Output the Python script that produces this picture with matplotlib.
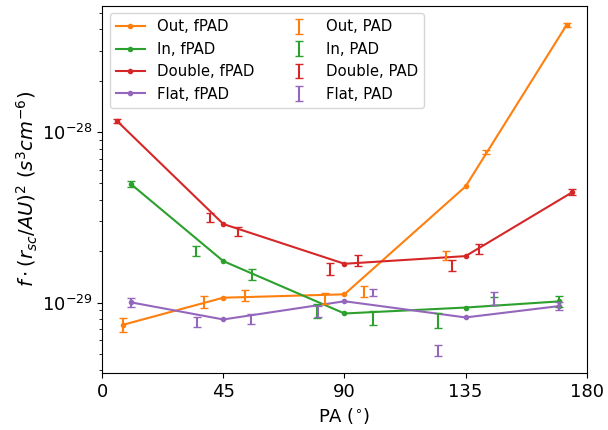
import matplotlib
matplotlib.use('Agg')
import matplotlib.pyplot as plt

# PAD measurements (with error bars)
pa_out = [7.8, 37.8, 53.0, 82.8, 97.4, 127.7, 142.6, 172.6]
pad_out = [7.41e-30, 1.007e-29, 1.103e-29, 1.059e-29, 1.167e-29, 1.901e-29, 7.63e-29, 4.27e-28]
err_out = [6.97e-31, 7.85e-31, 8.45e-31, 7.54e-31, 9.1e-31, 1.15e-30, 2.26e-30, 1.15e-29]

pa_in = [10.6, 34.7, 55.5, 79.9, 100.7, 124.9, 145.6, 169.8]
pad_in = [4.97e-29, 2.02e-29, 1.47e-29, 8.96e-30, 8.19e-30, 7.90e-30, 1.027e-29, 1.016e-29]
err_in = [2.0e-30, 1.36e-30, 1.05e-30, 8.67e-31, 7.93e-31, 7.96e-31, 5.5e-31, 7.5e-31]

pa_double = [5.6, 40.1, 50.3, 84.6, 95.1, 129.8, 140.1, 174.7]
pad_double = [1.159e-28, 3.164e-29, 2.603e-29, 1.575e-29, 1.778e-29, 1.651e-29, 2.066e-29, 4.446e-29]
err_double = [3.12e-30, 1.83e-30, 1.57e-30, 1.23e-30, 1.31e-30, 1.26e-30, 1.39e-30, 1.79e-30]

pa_flat = [10.7, 35.1, 55.3, 80.2, 100.7, 124.9, 145.6, 169.8]
pad_flat = [1.003e-29, 7.69e-30, 8.03e-30, 8.86e-30, 1.148e-29, 5.26e-30, 1.066e-29, 9.54e-30]
err_flat = [6.07e-31, 5.38e-31, 5.07e-31, 6.55e-31, 5.71e-31, 4.1e-31, 9.3e-31, 5.4e-31]

# fPAD fits
fpa_out = [7.8, 45, 90, 135, 172.6]
fpad_out = [7.41e-30, 1.068e-29, 1.118e-29, 4.80e-29, 4.27e-28]
fpa_in = [10.6, 45, 90, 135, 169.8]
fpad_in = [4.97e-29, 1.751e-29, 8.63e-30, 9.35e-30, 1.016e-29]
fpa_double = [5.6, 45, 90, 135, 174.7]
fpad_double = [1.159e-28, 2.89e-29, 1.689e-29, 1.873e-29, 4.446e-29]
fpa_flat = [10.7, 45, 90, 135, 169.8]
fpad_flat = [1.003e-29, 7.96e-30, 1.018e-29, 8.18e-30, 9.54e-30]

names = ['Out', 'In', 'Double', 'Flat']
colors = ['tab:orange', 'tab:green', 'tab:red', 'tab:purple']
fits = [(fpa_out, fpad_out), (fpa_in, fpad_in), (fpa_double, fpad_double), (fpa_flat, fpad_flat)]
pads = [(pa_out, pad_out, err_out), (pa_in, pad_in, err_in),
        (pa_double, pad_double, err_double), (pa_flat, pad_flat, err_flat)]

fig = plt.figure(figsize=(6.08, 4.3), dpi=100)
ax = fig.add_axes([0.168, 0.133, 0.797, 0.853])

for name, c, (x, y) in zip(names, colors, fits):
    ax.plot(x, y, '-o', color=c, ms=3, lw=1.5, label=name + ', fPAD')
for name, c, (x, y, e) in zip(names, colors, pads):
    ax.errorbar(x, y, yerr=e, fmt='none', ecolor=c, capsize=3, elinewidth=1.5,
                label=name + ', PAD')

ax.set_yscale('log')
ax.set_xlim(0, 180)
ax.set_xticks([0, 45, 90, 135, 180])
ax.tick_params(labelsize=13)
ax.set_xlabel(r'PA ($^{\circ}$)', fontsize=13)
ax.set_ylabel(r'$f \cdot (r_{sc}/AU)^2\ (s^3cm^{-6})$', fontsize=14, labelpad=1)
ax.legend(ncol=2, loc='upper left', fontsize=10.7)

plt.savefig('out.png', dpi=100)
